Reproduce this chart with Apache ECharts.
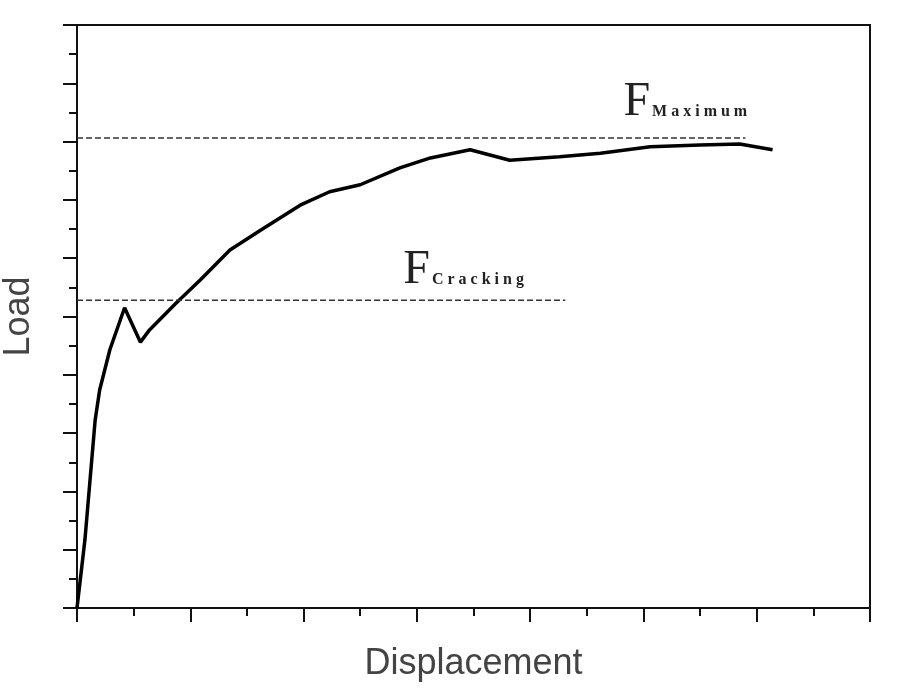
<!DOCTYPE html>
<html><head><meta charset="utf-8">
<script src="https://cdn.jsdelivr.net/npm/echarts@6/dist/echarts.min.js"></script>
<style>html,body{margin:0;padding:0;background:#fff}#c{width:900px;height:699px}</style>
</head><body><div id="c"></div>
<script>
const displacement = [0,0.07,0.16,0.2,0.29,0.42,0.56,0.64,0.86,1.09,1.35,1.62,1.97,2.23,2.5,2.85,3.12,3.47,3.82,4.26,4.62,5.06,5.5,5.85,6.14];
const load = [0,1.17,3.22,3.74,4.43,5.15,4.56,4.77,5.2,5.63,6.14,6.48,6.91,7.14,7.26,7.55,7.72,7.86,7.68,7.74,7.8,7.91,7.94,7.96,7.86];
const fMax = 8.06, fMaxEnd = 5.9;
const fCrack = 5.28, fCrackEnd = 4.31;
const chart = echarts.init(document.getElementById('c'));
const rich = {F:{fontFamily:'Liberation Serif',fontSize:48,color:'#222'},s:{fontFamily:'Liberation Serif',fontSize:16,fontWeight:'bold',color:'#222',padding:[20,0,0,2]}};
chart.setOption({
  animation:false,
  grid:{left:77,right:30,top:25,bottom:91,show:true,borderColor:'#111',borderWidth:2,outerBoundsMode:'none'},
  xAxis:{type:'value',min:0,max:7,interval:1,name:'Displacement',nameLocation:'middle',nameGap:38,
    nameTextStyle:{fontFamily:'Liberation Sans',fontSize:36,color:'#444'},
    axisLine:{lineStyle:{color:'#111',width:2}},axisTick:{length:14,lineStyle:{color:'#111',width:2}},
    minorTick:{show:true,splitNumber:2,length:8,lineStyle:{color:'#111',width:2}},
    axisLabel:{show:false},splitLine:{show:false}},
  yAxis:{type:'value',min:0,max:10,interval:1,name:'Load',nameLocation:'middle',nameGap:40,
    nameTextStyle:{fontFamily:'Liberation Sans',fontSize:36,color:'#444'},
    axisLine:{lineStyle:{color:'#111',width:2}},axisTick:{length:14,lineStyle:{color:'#111',width:2}},
    minorTick:{show:true,splitNumber:2,length:8,lineStyle:{color:'#111',width:2}},
    axisLabel:{show:false},splitLine:{show:false}},
  series:[
    {type:'line',data:displacement.map((x,i)=>[x,load[i]]),showSymbol:false,lineStyle:{color:'#000',width:3.5}},
    {type:'line',data:[[0,fMax],[fMaxEnd,fMax]],showSymbol:false,lineStyle:{color:'#333',width:1.5,type:[6,3]},
      endLabel:{show:true,distance:0,align:'left',offset:[-122,-36],formatter:'{F|F}{s|M a x i m u m}',rich:rich}},
    {type:'line',data:[[0,fCrack],[fCrackEnd,fCrack]],showSymbol:false,lineStyle:{color:'#333',width:1.5,type:[6,3]},
      endLabel:{show:true,distance:0,align:'left',offset:[-162,-30],formatter:'{F|F}{s|C r a c k i n g}',rich:rich}}
  ]
});
</script></body></html>
